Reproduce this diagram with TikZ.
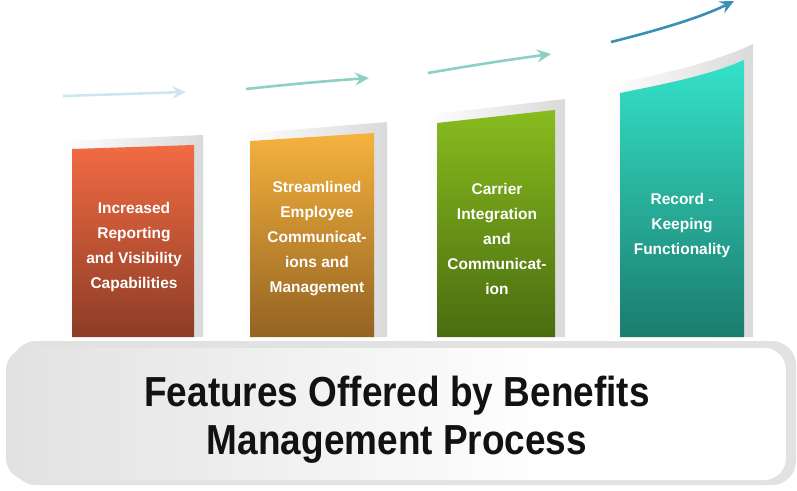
\documentclass[tikz,border=0pt]{standalone}
\usepackage{fontspec}
\setmainfont{Liberation Sans}
\newfontfamily\titlefont[FakeStretch=0.88]{Liberation Sans}
\usetikzlibrary{arrows.meta}
\definecolor{cAtop}{HTML}{F26B43}
\definecolor{cAbot}{HTML}{8C3C26}
\definecolor{cBtop}{HTML}{F6B23D}
\definecolor{cBbot}{HTML}{936322}
\definecolor{cCtop}{HTML}{88BC1E}
\definecolor{cCbot}{HTML}{4A6C10}
\definecolor{cDtop}{HTML}{35E2C9}
\definecolor{cDbot}{HTML}{1B7C6D}
\definecolor{backgray}{HTML}{DADADA}
\definecolor{rimgray}{HTML}{E2E2E2}
\definecolor{arA}{HTML}{CDE7F1}
\definecolor{arB}{HTML}{8ED0C6}
\definecolor{arC}{HTML}{8CCFC5}
\definecolor{arD}{HTML}{3A8FB6}
\definecolor{titlecol}{HTML}{121212}
\pgfdeclarehorizontalshading{bannershade}{100bp}{color(0bp)=(backgray); color(25bp)=(backgray!80); color(60bp)=(white); color(90bp)=(white); color(100bp)=(rimgray)}
\tikzset{
  backcard/.style={left color=white, right color=backgray, draw=none},
  cardtext/.style={text=white, align=center, font=\bfseries\fontsize{15.5}{25}\selectfont},
  trend/.style={line width=2.6pt, -{Stealth[length=14pt,width=13pt,inset=5pt]}},
}
\begin{document}
\begin{tikzpicture}[x=1pt,y=-1pt]
\useasboundingbox (0,0) rectangle (797,490);
% back cards
\shade[backcard] (62,141) -- (203,135) -- (203,337) -- (62,337) -- cycle;
\shade[backcard] (240,134) -- (387,122) -- (387,337) -- (240,337) -- cycle;
\shade[backcard] (425,115) -- (565,99) -- (565,337) -- (425,337) -- cycle;
\shade[backcard] (606,86) .. controls (670,72) and (715,62) .. (753,44) -- (753,337) -- (606,337) -- cycle;
% coloured cards
\shade[top color=cAtop, bottom color=cAbot] (72,149) -- (194,145) -- (194,337) -- (72,337) -- cycle;
\shade[top color=cBtop, bottom color=cBbot] (250,141) -- (374,133) -- (374,337) -- (250,337) -- cycle;
\shade[top color=cCtop, bottom color=cCbot] (437,123) -- (555,110) -- (555,337) -- (437,337) -- cycle;
\shade[top color=cDtop, bottom color=cDbot] (620,93) .. controls (675,82) and (712,74) .. (744,60) -- (744,337) -- (620,337) -- cycle;
% texts
\node[cardtext] (t1) at (134,247) {Increased\\Reporting\\and Visibility\\Capabilities};
\node[cardtext] (t2) at (317,239) {Streamlined\\Employee\\Communicat-\\ions and\\Management};
\node[cardtext] (t3) at (497,239) {Carrier\\Integration\\and\\Communicat-\\ion};
\node[cardtext] (t4) at (682,225) {Record -\\Keeping\\Functionality};
% arrows
\coordinate (a1s) at (63,96);  \coordinate (a1e) at (186,92);
\coordinate (a2s) at (246,89); \coordinate (a2e) at (369,78);
\coordinate (a3s) at (428,73); \coordinate (a3e) at (551,54);
\coordinate (a4s) at (611,42); \coordinate (a4e) at (734,1);
\draw[trend, arA] (a1s) -- (a1e);
\draw[trend, arB] (a2s) to[bend left=1] (a2e);
\draw[trend, arC] (a3s) to[bend left=1] (a3e);
\draw[trend, arD] (a4s) .. controls (655,31) and (700,18) .. (a4e);
% banner
\fill[rimgray, rounded corners=24pt] (12,341) rectangle (796,485);
\shade[shading=bannershade, rounded corners=22pt] (6,348) rectangle (786,480);
\node[text=titlecol, align=center, font=\titlefont\bfseries\fontsize{42}{48}\selectfont] (title) at (397,420) {Features Offered by Benefits\\Management Process};
\end{tikzpicture}
\end{document}
